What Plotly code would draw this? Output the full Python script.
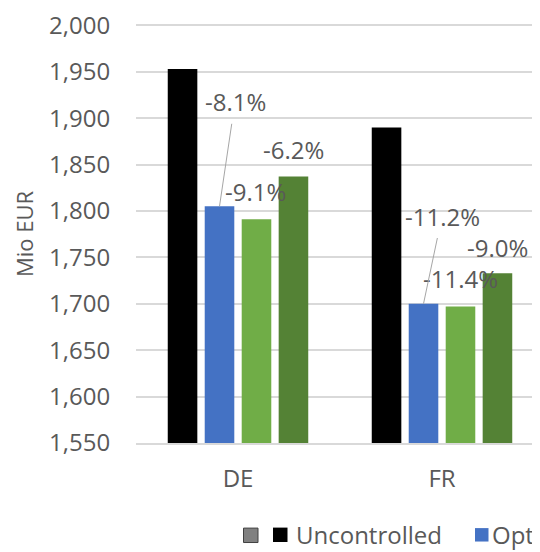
import plotly.graph_objects as go

categories = ["DE", "FR"]
uncontrolled = [1953, 1890]
opt = [1805, 1700]
opt_b = [1791, 1697]
opt_c = [1837, 1733]
series_names = ["Uncontrolled", "Opt", "Opt B", "Opt C"]
series_colors = ["#000000", "#4472C4", "#70AD47", "#548235"]
pct_labels = {
    "Opt": ["-8.1%", "-11.2%"],
    "Opt B": ["-9.1%", "-11.4%"],
    "Opt C": ["-6.2%", "-9.0%"],
}
y_ticks = [1550, 1600, 1650, 1700, 1750, 1800, 1850, 1900, 1950, 2000]

FONT = "Open Sans"
TXT = "#595959"
GRID = "#d9d9d9"

# the page body has an 8px margin; work in window pixels and subtract it
OFF = 8
W, H = 540 - OFF, 552 - OFF
plot_left, plot_right = 136, 540          # window px
y_bottom_px, y_top_px = 443.0, 23.3       # window px of 1550 and 2000
top_px = 20.0
px_per_unit = (y_bottom_px - y_top_px) / (2000 - 1550)
y_max = 2000 + (y_top_px - top_px) / px_per_unit

ml = plot_left - OFF
mr = 0
mt = top_px - OFF
mb = 552 - y_bottom_px
pw = W - ml - mr
ph = H - mt - mb
cat_px = 204
xr = [-0.5, -0.5 + pw / cat_px]

def px2paper_x(px):
    return (px - plot_left) / pw

def px2paper_y(py):
    return (y_bottom_px - py) / ph

fig = go.Figure()
for name, vals, col in zip(series_names, [uncontrolled, opt, opt_b, opt_c], series_colors):
    fig.add_trace(go.Bar(x=categories, y=vals, name=name, marker_color=col,
                         marker_line_width=0, showlegend=False))

annotations = []
label_pos = {
    "Opt": [(-3, 1917), (0, 1794)],
    "Opt B": [(17, 1821), (18, 1727)],
    "Opt C": [(55, 1866), (55, 1761)],
}
for s in ["Opt B", "Opt C"]:
    for i, c in enumerate(categories):
        dx, yv = label_pos[s][i]
        annotations.append(dict(x=c, y=yv, xref="x", yref="y", xshift=dx, text=pct_labels[s][i],
                                showarrow=False, font=dict(family=FONT, size=24, color=TXT)))
for i, c in enumerate(categories):
    dx, yv = label_pos["Opt"][i]
    bar_y = opt[i]
    ay = -(yv - bar_y) * px_per_unit
    annotations.append(dict(x=c, y=bar_y, xref="x", yref="y", xshift=-18.5,
                            ax=dx + 18.5, ay=ay, axref="pixel", ayref="pixel",
                            text=pct_labels["Opt"][i], showarrow=True, arrowhead=0,
                            arrowwidth=1, arrowcolor="#a6a6a6", standoff=0, startstandoff=4,
                            font=dict(family=FONT, size=24, color=TXT)))

annotations.append(dict(x=px2paper_x(24), y=px2paper_y(232), xref="paper", yref="paper",
                        xanchor="center", yanchor="middle",
                        text="Mio EUR", textangle=-90, showarrow=False,
                        font=dict(family=FONT, size=22, color=TXT)))

shapes = [
    dict(type="rect", xref="paper", yref="paper", x0=px2paper_x(243.5), x1=px2paper_x(258),
         y0=px2paper_y(543), y1=px2paper_y(528.5), fillcolor="#808080",
         line=dict(color="#404040", width=1)),
    dict(type="rect", xref="paper", yref="paper", x0=px2paper_x(273), x1=px2paper_x(287.5),
         y0=px2paper_y(542.5), y1=px2paper_y(528), fillcolor="#000000", line=dict(width=0)),
    dict(type="rect", xref="paper", yref="paper", x0=px2paper_x(475), x1=px2paper_x(488.5),
         y0=px2paper_y(542), y1=px2paper_y(528.5), fillcolor="#4472C4", line=dict(width=0)),
]
annotations.append(dict(x=px2paper_x(294), y=px2paper_y(535), xref="paper", yref="paper",
                        xanchor="left", yanchor="middle", text="Uncontrolled", showarrow=False,
                        font=dict(family=FONT, size=24, color=TXT)))
annotations.append(dict(x=px2paper_x(490), y=px2paper_y(535), xref="paper", yref="paper",
                        xanchor="left", yanchor="middle", text="Opt", showarrow=False,
                        font=dict(family=FONT, size=24, color=TXT)))

fig.update_layout(
    width=W, height=H,
    margin=dict(l=ml, r=mr, t=mt, b=mb, pad=0),
    paper_bgcolor="white", plot_bgcolor="white",
    barmode="group", bargap=0.275, bargroupgap=0.2,
    showlegend=False,
    font=dict(family=FONT, size=24, color=TXT),
    annotations=annotations,
    shapes=shapes,
    xaxis=dict(range=xr, showgrid=False, showline=True, linecolor=GRID, linewidth=1.5,
               ticks="outside", ticklen=13, tickcolor="rgba(0,0,0,0)",
               tickfont=dict(family=FONT, size=24, color=TXT), fixedrange=True),
    yaxis=dict(range=[1550, y_max], tickvals=y_ticks, tickformat=",d",
               showgrid=True, gridcolor=GRID, gridwidth=1.5, zeroline=False,
               showline=False, ticks="outside", ticklen=20, tickcolor="rgba(0,0,0,0)",
               ticklabeloverflow="allow",
               tickfont=dict(family=FONT, size=24, color=TXT), fixedrange=True),
)

fig.write_html("out.html")
